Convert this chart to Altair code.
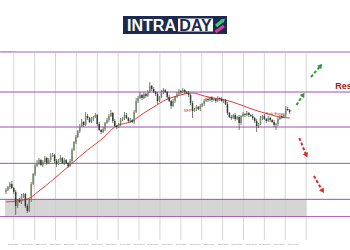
import altair as alt
import pandas as pd

# ---------------- data ----------------
first_open = 1.1700
closes = [
    1.1706, 1.1715, 1.1724, 1.1712, 1.1700, 1.1658, 1.1676, 1.1670, 1.1685, 1.1694,
    1.1658, 1.1643, 1.1676, 1.1724, 1.1754, 1.1778, 1.1787, 1.1796, 1.1781, 1.1790,
    1.1802, 1.1787, 1.1796, 1.1808, 1.1811, 1.1793, 1.1784, 1.1796, 1.1802, 1.1787,
    1.1796, 1.1787, 1.1778, 1.1793, 1.1826, 1.1850, 1.1865, 1.1883, 1.1898, 1.1910,
    1.1901, 1.1928, 1.1922, 1.1910, 1.1919, 1.1925, 1.1931, 1.1904, 1.1886, 1.1880,
    1.1889, 1.1907, 1.1916, 1.1928, 1.1937, 1.1913, 1.1898, 1.1895, 1.1904, 1.1916,
    1.1922, 1.1931, 1.1922, 1.1913, 1.1916, 1.1910, 1.1940, 1.1973, 1.1982, 1.1991,
    1.1982, 1.1994, 1.1988, 1.2000, 1.2018, 1.2009, 1.2000, 1.1994, 1.1973, 1.1985,
    1.2000, 1.2006, 1.2000, 1.1985, 1.1973, 1.1958, 1.1973, 1.1985, 1.1994, 1.2003,
    1.2000, 1.2006, 1.2000, 1.1997, 1.1991, 1.1967, 1.1943, 1.1949, 1.1955, 1.1949,
    1.1958, 1.1964, 1.1973, 1.1979, 1.1976, 1.1982, 1.1976, 1.1979, 1.1973, 1.1982,
    1.1979, 1.1973, 1.1976, 1.1964, 1.1937, 1.1925, 1.1922, 1.1931, 1.1919, 1.1925,
    1.1907, 1.1928, 1.1934, 1.1931, 1.1937, 1.1931, 1.1928, 1.1922, 1.1913, 1.1898,
    1.1904, 1.1922, 1.1928, 1.1919, 1.1913, 1.1922, 1.1916, 1.1910, 1.1901, 1.1904,
    1.1919, 1.1928, 1.1925, 1.1931, 1.1949, 1.1946, 1.1940,
]
upper_wick_pips = [
    6, 3, 6, 9, 3, 6, 3, 6, 9, 3,
    3, 6, 3, 6, 3, 6, 9, 6, 3, 6,
    6, 3, 6, 9, 6, 3, 6, 3, 9, 3,
    6, 3, 3, 6, 6, 3, 6, 3, 6, 9,
    3, 12, 6, 3, 6, 3, 6, 3, 6, 3,
    6, 3, 6, 6, 9, 3, 6, 3, 3, 6,
    3, 9, 6, 3, 6, 3, 6, 9, 6, 9,
    3, 6, 3, 6, 12, 3, 6, 3, 6, 3,
    6, 6, 3, 3, 6, 3, 6, 3, 6, 6,
    3, 6, 3, 3, 6, 3, 6, 3, 6, 3,
    6, 3, 6, 3, 6, 3, 6, 3, 3, 6,
    3, 6, 3, 3, 6, 3, 6, 3, 6, 3,
    6, 3, 6, 3, 6, 3, 3, 6, 3, 6,
    3, 6, 3, 6, 3, 6, 3, 3, 6, 3,
    6, 3, 6, 3, 9, 6, 3,
]
lower_wick_pips = [
    6, 3, 6, 3, 6, 27, 6, 3, 6, 3,
    6, 6, 3, 6, 3, 6, 3, 6, 3, 6,
    3, 6, 3, 6, 3, 6, 9, 3, 6, 3,
    6, 3, 6, 3, 6, 3, 6, 3, 6, 3,
    6, 3, 6, 3, 3, 6, 3, 6, 3, 6,
    3, 6, 3, 6, 3, 6, 3, 6, 3, 6,
    3, 6, 3, 6, 6, 3, 6, 3, 6, 3,
    6, 3, 6, 3, 3, 6, 3, 6, 9, 3,
    3, 6, 3, 6, 3, 9, 3, 6, 3, 3,
    6, 3, 6, 3, 6, 6, 21, 3, 6, 3,
    6, 3, 6, 3, 6, 3, 6, 3, 6, 3,
    6, 3, 6, 3, 6, 3, 6, 3, 6, 3,
    21, 6, 3, 6, 3, 6, 3, 6, 6, 18,
    6, 3, 6, 3, 6, 3, 6, 3, 6, 15,
    6, 3, 6, 3, 6, 3, 6,
]

ma_idx = [0, 11, 17, 24, 33, 42, 50, 56, 65, 71, 76, 82, 88, 96, 102, 107, 113, 121, 128, 135, 141, 146]
ma_val = [1.1670, 1.1679, 1.1703, 1.1736, 1.1781, 1.1826, 1.1862, 1.1895, 1.1913, 1.1937, 1.1955,
          1.1976, 1.1988, 1.1997, 1.1988, 1.1982, 1.1976, 1.1961, 1.1946, 1.1934, 1.1925, 1.1922]

levels = [1.2000, 1.1895, 1.1786, 1.1678, 1.1626]
zone_low = 1.1626
zone_high = 1.1678
zone_start = -0.5
zone_end = 154.5

grid_idx = [4, 14.75, 25.5, 36.25, 47, 57.75, 68.5, 79.25, 90, 100.75, 111.5, 122.25, 133, 143.75, 154.5]
label_idx = [3.75, 10.95, 18.15, 25.35, 32.55, 39.75, 46.95, 54.15, 61.35, 68.55, 75.75,
             82.95, 90.15, 97.35, 104.55, 111.75, 118.95, 126.15, 133.35, 140.55, 147.75]
label_txt = ["21 Jul 2020", "21 Jul 16:00", "22 Jul 00:00", "22 Jul 08:00", "22 Jul 16:00",
             "23 Jul 00:00", "23 Jul 08:00", "23 Jul 16:00", "24 Jul 00:00", "24 Jul 08:00",
             "24 Jul 16:00", "27 Jul 00:00", "27 Jul 08:00", "27 Jul 16:00", "28 Jul 00:00",
             "28 Jul 08:00", "28 Jul 16:00", "29 Jul 00:00", "29 Jul 08:00", "29 Jul 16:00",
             "30 Jul 00:00"]

arrow_name = ["up1", "up2", "down1", "down2"]
arrow_x0 = [149.5, 157.0, 151.0, 158.5]
arrow_p0 = [1.1961, 1.2045, 1.1862, 1.1748]
arrow_x1 = [153.0, 162.0, 154.6, 163.0]
arrow_p1 = [1.1992, 1.2079, 1.1810, 1.1703]
arrow_dir = ["up", "up", "down", "down"]
arrow_angle = [34, 40, 157, 150]

notes_txt = ["NFP", "Risk Event"]
notes_x = [93.5, 138.5]
notes_p = [1.1944, 1.1934]

res_txt = "Resistance"
res_x = 169.5
res_p = 1.2018

top_price = 1.2120
bottom_price = 1.1556

# ---------------- tables ----------------
opens = [first_open] + closes[:-1]
highs = [max(o, c) + u / 10000 for o, c, u in zip(opens, closes, upper_wick_pips)]
lows = [min(o, c) - l / 10000 for o, c, l in zip(opens, closes, lower_wick_pips)]
candles = pd.DataFrame({"i": list(range(len(closes))), "open": opens, "close": closes,
                        "high": highs, "low": lows})
ma_df = pd.DataFrame({"i": ma_idx, "ma": ma_val})
lev_df = pd.DataFrame({"level": levels})
zone_df = pd.DataFrame({"x0": [zone_start], "x1": [zone_end], "lo": [zone_low], "hi": [zone_high]})
grid_df = pd.DataFrame({"g": grid_idx})
lab_df = pd.DataFrame({"pos": label_idx, "txt": label_txt})
arr_df = pd.DataFrame({"name": arrow_name, "x0": arrow_x0, "p0": arrow_p0, "x1": arrow_x1,
                       "p1": arrow_p1, "dir": arrow_dir, "angle": arrow_angle})
notes_df = pd.DataFrame({"txt": notes_txt, "x": notes_x, "p": notes_p})
res_df = pd.DataFrame({"txt": [res_txt], "x": [res_x], "p": [res_p]})
top_df = pd.DataFrame({"p": [top_price]})
one = pd.DataFrame({"a": [0]})

XS = alt.Scale(domain=[-0.5, 174.5], nice=False, zero=False)
YS = alt.Scale(domain=[bottom_price, top_price], nice=False, zero=False)


def X(f):
    return alt.X(f, type="quantitative", scale=XS, axis=None)


def Y(f):
    return alt.Y(f, type="quantitative", scale=YS, axis=None)


FONT = "Liberation Sans"
arrow_colors = alt.Scale(domain=["up", "down"], range=["#2f9a2f", "#d62a2a"])

zone = alt.Chart(zone_df).mark_rect(color="#d5d5d5").encode(
    x=X("x0"), x2="x1", y=Y("lo"), y2="hi")
grid = alt.Chart(grid_df).mark_rule(color="#cccccc", strokeWidth=0.8).encode(x=X("g"))
lev = alt.Chart(lev_df).mark_rule(color="#a24fb3", strokeWidth=1).encode(y=Y("level"))
top = alt.Chart(top_df).mark_rule(color="#cdb4e0", strokeWidth=2).encode(y=Y("p"))
ma = alt.Chart(ma_df).mark_line(color="#e03a36", strokeWidth=1, interpolate="monotone").encode(
    x=X("i"), y=Y("ma"))
wick = alt.Chart(candles).mark_rule(color="#3c4838", strokeWidth=0.7).encode(
    x=X("i"), y=Y("low"), y2="high")
body = alt.Chart(candles).mark_bar(size=1.5).encode(
    x=X("i"), y=Y("open"), y2="close",
    color=alt.condition("datum.close >= datum.open", alt.value("#7b8a6e"), alt.value("#333f2f")))
labels = alt.Chart(lab_df).mark_text(fontSize=2, color="#777777", font=FONT, baseline="middle").encode(
    x=X("pos"), y=alt.value(192), text="txt:N")
arrows = alt.Chart(arr_df).mark_rule(strokeWidth=2, strokeDash=[3, 2]).encode(
    x=X("x0"), x2="x1", y=Y("p0"), y2="p1",
    color=alt.Color("dir:N", scale=arrow_colors, legend=None))
heads = alt.Chart(arr_df).mark_point(shape="triangle-up", filled=True, size=30, opacity=1).encode(
    x=X("x1"), y=Y("p1"), angle=alt.Angle("angle:Q", scale=None),
    color=alt.Color("dir:N", scale=arrow_colors, legend=None))
notes = alt.Chart(notes_df).mark_text(fontSize=4, color="#c8312b", font=FONT).encode(
    x=X("x"), y=Y("p"), text="txt:N")
res = alt.Chart(res_df).mark_text(fontSize=9, fontWeight="bold", color="#a51d1d", font=FONT,
                                  align="left", baseline="middle").encode(
    x=X("x"), y=Y("p"), text="txt:N")
sym = alt.Chart(one).mark_text(text="EURUSD,H1", fontSize=2.5, color="#888888", font=FONT,
                               align="left", baseline="middle").encode(
    x=alt.value(1), y=alt.value(-1))

# logo
NAVY = "#1b2a4e"
logo_bg = alt.Chart(one).mark_rect(color=NAVY).encode(
    x=alt.value(123), x2=alt.value(227), y=alt.value(-36), y2=alt.value(-18))
logo_white = alt.Chart(one).mark_rect(color="white").encode(
    x=alt.value(178), x2=alt.value(213), y=alt.value(-33.5), y2=alt.value(-20.5))
logo_t1 = alt.Chart(one).mark_text(text="INTRA", font=FONT, fontWeight="bold", fontSize=16,
                                   color="white", align="center", baseline="alphabetic").encode(
    x=alt.value(151.5), y=alt.value(-21))
logo_t2 = alt.Chart(one).mark_text(text="DAY", font=FONT, fontWeight="bold", fontSize=16,
                                   color=NAVY, align="center", baseline="alphabetic").encode(
    x=alt.value(195.5), y=alt.value(-21))
logo_g = alt.Chart(one).mark_rule(color="#36d07c", strokeWidth=3).encode(
    x=alt.value(216), y=alt.value(-26), x2=alt.value(222), y2=alt.value(-31))
logo_gh = alt.Chart(one).mark_point(shape="triangle-up", filled=True, size=22, color="#36d07c",
                                    opacity=1, angle=50).encode(
    x=alt.value(223.5), y=alt.value(-32))
logo_m = alt.Chart(one).mark_rule(color="#e2359f", strokeWidth=3).encode(
    x=alt.value(215.5), y=alt.value(-20), x2=alt.value(224), y2=alt.value(-26))

chart = alt.layer(
    zone, grid, lev, top, ma, wick, body, labels, arrows, heads, notes, res, sym,
    logo_bg, logo_white, logo_t1, logo_t2, logo_g, logo_gh, logo_m,
).properties(
    width=350, height=188,
    autosize=alt.AutoSizeParams(type="none"),
    padding={"top": 52, "bottom": 10, "left": 0, "right": 0},
    background="white",
).configure_view(stroke=None)

chart.save("out.html", embed_options={"renderer": "svg", "actions": False})
